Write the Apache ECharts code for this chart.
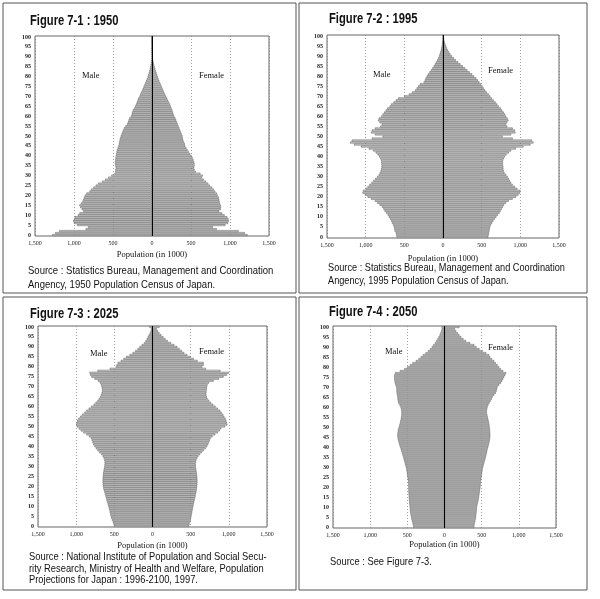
<!DOCTYPE html>
<html>
<head>
<meta charset="utf-8">
<script src="https://cdn.jsdelivr.net/npm/echarts@6/dist/echarts.min.js"></script>
<style>html,body{margin:0;padding:0;background:#fff;}#c{width:600px;height:599px;}</style>
</head>
<body>
<div id="c"></div>
<script>
// ---- categories / tick labels ----
const ages = [];
for (let a = 0; a <= 100; a++) ages.push(String(a));

// ---- 1950 (thousands), ages 0..100 ----
const male1950 = [1280,1240,1190,850,820,960,1000,1010,1000,990,950,930,880,900,920,930,910,890,880,870,
860,840,800,780,750,720,690,640,600,560,520,480,470,470,465,470,475,475,470,468,
462,460,455,450,440,430,425,420,415,410,400,390,380,370,360,340,320,310,300,290,
270,260,255,245,230,215,205,195,185,175,160,150,140,128,118,106,95,84,74,64,
55,47,40,33,27,22,17,13,10,7,5,4,3,2,1,1,1,0,0,0,0];
const female1950 = [1225,1190,1110,830,780,940,975,985,980,965,930,900,860,880,885,880,870,865,860,855,
840,830,810,790,770,740,720,690,660,640,650,620,560,545,540,545,545,540,530,520,
505,490,470,455,440,425,420,410,400,395,390,380,370,360,350,340,330,320,310,300,
285,275,268,260,250,240,230,218,205,192,180,168,156,145,134,123,112,101,91,82,
73,64,56,48,41,34,27,21,16,12,8,6,4,3,2,1,1,0,0,0,0];

// ---- 1995 ----
const male1995 = [600,605,610,625,630,635,645,660,670,685,700,715,735,755,770,790,820,850,880,930,
975,1010,1040,1035,1000,975,950,925,900,875,850,830,815,805,800,795,795,798,800,810,
825,845,870,900,960,1060,1150,1200,1180,920,780,880,930,920,880,810,790,820,840,830,
800,780,760,740,720,690,670,640,610,580,500,440,400,360,340,320,300,250,235,225,
210,195,175,155,138,120,105,90,75,63,52,43,35,28,22,17,13,10,7,5,4];
const female1995 = [585,590,595,600,605,610,620,635,650,670,690,710,730,745,760,775,790,815,850,900,
945,975,995,1000,960,930,900,880,865,850,835,815,795,785,780,780,775,775,775,785,
800,820,850,880,940,1040,1130,1170,1150,900,770,880,935,930,900,830,815,830,845,835,
815,800,785,765,745,720,700,680,655,630,610,590,565,545,525,510,490,470,450,430,
400,375,345,315,285,255,225,195,165,140,115,95,78,62,50,40,30,22,16,12,10];

// ---- 2025 (projection) ----
const male2025 = [505,510,520,530,540,548,553,560,565,572,580,587,595,602,609,615,622,630,638,645,
650,652,653,653,652,650,648,645,640,635,630,628,627,630,640,652,670,695,720,740,
760,775,785,795,805,830,865,905,940,965,990,1000,995,985,970,945,920,890,865,835,
805,770,745,720,700,685,675,665,660,662,668,675,690,715,760,800,815,825,720,560,
480,470,455,415,380,345,300,260,225,195,170,140,110,90,75,62,50,35,25,18,40];
const female2025 = [480,485,492,500,505,510,515,520,525,530,535,540,546,552,558,563,568,574,578,582,
585,587,588,588,587,585,582,578,574,570,567,566,567,572,585,600,620,645,670,695,
715,730,740,750,760,785,820,855,880,900,950,980,975,965,955,940,925,905,885,855,
825,795,765,740,720,710,705,705,708,712,715,720,740,800,870,930,975,1000,890,700,
650,670,670,590,540,500,455,415,385,355,325,285,240,200,170,143,115,90,70,55,90];

// ---- 2050 (projection) ----
const male2050 = [420,424,430,438,445,450,455,460,464,466,468,471,474,477,479,481,482,484,485,486,
486,487,488,490,494,498,502,506,510,514,520,528,535,542,550,557,565,573,581,589,
598,607,615,622,628,633,634,632,628,624,615,607,600,594,588,584,580,578,580,585,
592,605,620,628,632,634,638,644,646,647,650,660,668,672,676,678,675,665,600,540,
500,465,430,385,350,320,290,255,222,195,170,150,128,110,95,80,66,55,45,38,40];
const female2050 = [400,403,408,414,420,424,427,430,433,435,437,442,448,455,460,465,468,472,476,480,
483,486,488,490,494,498,502,506,510,513,520,528,535,542,550,557,563,570,575,580,
588,595,602,608,612,615,616,615,613,611,607,604,600,594,588,582,576,570,570,574,
580,590,605,620,635,647,668,690,700,707,713,735,758,775,790,803,818,830,790,758,
735,713,690,669,640,615,600,560,513,470,430,400,345,290,255,225,200,178,156,140,200];

const panels = [
  {male: male1950, female: female1950},
  {male: male1995, female: female1995},
  {male: male2025, female: female2025},
  {male: male2050, female: female2050}
];

const titles = ['Figure 7-1 : 1950', 'Figure 7-2 : 1995', 'Figure 7-3 : 2025', 'Figure 7-4 : 2050'];
const sources = [
  'Source : Statistics Bureau, Management and Coordination\nAngency, 1950 Population Census of Japan.',
  'Source : Statistics Bureau, Management and Coordination\nAngency, 1995 Population Census of Japan.',
  'Source : National Institute of Population and Social Secu-\nrity Research, Ministry of Health and Welfare, Population\nProjections for Japan : 1996-2100, 1997.',
  'Source : See Figure 7-3.'
];

// ---- layout ----
const gridsPos = [
  {left: 35, top: 36, width: 234, height: 200},
  {left: 327, top: 35, width: 232, height: 203},
  {left: 38, top: 326, width: 229, height: 201},
  {left: 333, top: 326, width: 223, height: 202}
];
const nameGaps = [14, 16, 14, 12];
const boxes = [
  {x: 3, y: 3, w: 293, h: 290},
  {x: 299, y: 3, w: 288, h: 290},
  {x: 3, y: 297, w: 293, h: 293},
  {x: 299, y: 297, w: 288, h: 293}
];
const titlePos = [[30, 21], [329, 19], [30, 314], [329, 312]];
// x, first line centre y, line height
const sourcePos = [[28, 271, 13.5], [328, 268, 13], [29, 557, 11.5], [330, 562, 12]];
const sourceScale = [0.865, 0.835, 0.85, 0.85];
const malePos = [[82, 76], [373, 75], [90, 354], [385, 352]];
const femalePos = [[199, 76], [488, 71], [199, 352], [488, 348]];

const serif = '"Liberation Serif", "DejaVu Serif", serif';
const sans = '"Liberation Sans", Arial, sans-serif';

const grid = [], xAxis = [], yAxis = [], series = [], graphic = [];
panels.forEach((p, i) => {
  grid.push(Object.assign({show: true, borderColor: '#666', borderWidth: 1, backgroundColor: 'transparent', containLabel: false}, gridsPos[i]));
  xAxis.push({
    type: 'value', gridIndex: i, min: -1500, max: 1500, interval: 500,
    name: 'Population (in 1000)', nameLocation: 'middle', nameGap: nameGaps[i],
    nameTextStyle: {fontFamily: serif, fontSize: 8.5, color: '#111'},
    axisLine: {show: false}, axisTick: {show: false},
    axisLabel: {fontFamily: serif, fontSize: 6, color: '#222', margin: 4,
      formatter: v => Math.abs(v).toLocaleString('en-US')},
    splitLine: {show: true, lineStyle: {type: [1, 2], color: '#888', width: 0.8}}
  });
  yAxis.push({
    type: 'category', gridIndex: i, data: ages, boundaryGap: true,
    axisLine: {show: false},
    axisTick: {show: false},
    axisLabel: {interval: 4, fontFamily: serif, fontSize: 6, fontWeight: 'bold', color: '#222', margin: 4},
    splitLine: {show: false}
  });
  series.push({
    type: 'bar', name: 'Male', xAxisIndex: i, yAxisIndex: i, stack: 's' + i,
    data: p.male.map(v => -v), barCategoryGap: '12%',
    itemStyle: {color: '#e2e2e2', borderColor: '#3a3a3a', borderWidth: 0.45},
    silent: true, animation: false,
    markLine: {silent: true, symbol: 'none', label: {show: false},
      lineStyle: {color: '#000', width: 1, type: 'solid'}, data: [{xAxis: 0}], animation: false}
  });
  series.push({
    type: 'bar', name: 'Female', xAxisIndex: i, yAxisIndex: i, stack: 's' + i,
    data: p.female, barCategoryGap: '12%',
    itemStyle: {color: '#e2e2e2', borderColor: '#3a3a3a', borderWidth: 0.45},
    silent: true, animation: false
  });
  const b = boxes[i];
  graphic.push({type: 'rect', shape: {x: b.x, y: b.y, width: b.w, height: b.h},
    style: {fill: 'none', stroke: '#555', lineWidth: 1}, silent: true});
  graphic.push({type: 'text', x: titlePos[i][0], y: titlePos[i][1], scaleX: 0.8, scaleY: 1,
    style: {text: titles[i], font: 'bold 14px ' + sans, fill: '#111', verticalAlign: 'middle', align: 'left'}});
  const lh = sourcePos[i][2];
  graphic.push({type: 'text', x: sourcePos[i][0], y: sourcePos[i][1] - lh / 2, scaleX: sourceScale[i], scaleY: 1,
    style: {text: sources[i], font: '11px ' + sans, fill: '#111', verticalAlign: 'top', align: 'left', lineHeight: lh}});
  graphic.push({type: 'text', x: malePos[i][0], y: malePos[i][1],
    style: {text: 'Male', font: '8.5px ' + serif, fill: '#111', verticalAlign: 'middle', align: 'left'}});
  graphic.push({type: 'text', x: femalePos[i][0], y: femalePos[i][1],
    style: {text: 'Female', font: '8.5px ' + serif, fill: '#111', verticalAlign: 'middle', align: 'left'}});
});

const chart = echarts.init(document.getElementById('c'), null, {renderer: 'canvas'});
chart.setOption({
  backgroundColor: '#fff',
  animation: false,
  grid, xAxis, yAxis, series, graphic
});
</script>
</body>
</html>
